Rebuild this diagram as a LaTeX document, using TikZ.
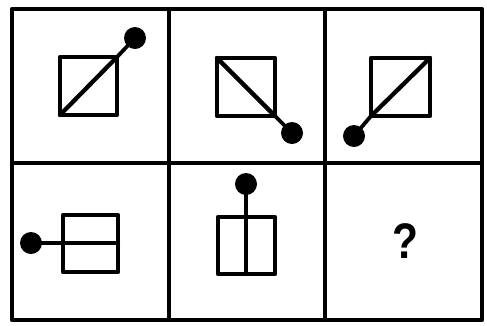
\documentclass[tikz,border=0pt]{standalone}
\usepackage{fontspec}
\setsansfont{Liberation Sans}
\usepackage{tikz}

\begin{document}
\begin{tikzpicture}[x=1pt, y=-1pt, line cap=round, line join=round]

  %% ════ styles ════
  \tikzset{
    frame/.style={line width=4.8pt, line cap=rect},
    sq/.style={line width=4.3pt},
    stick/.style={line width=3.8pt},
    ball/.style={fill=black}
  }

  %% ════ grid ════
  \draw[frame] (12,9) rectangle (482,320);
  \draw[frame] (169,9) -- (169,320);
  \draw[frame] (325,9) -- (325,320);
  \draw[frame] (12,163) -- (482,163);

  %% ════ cell 1 : / with ball upper right ════
  \draw[sq] (60,57) rectangle (117,115);
  \coordinate (b1) at (135,38);
  \draw[sq] (60,115) -- (117,57);
  \draw[stick] (117,57) -- (b1);
  \fill[ball] (b1) circle (11);

  %% ════ cell 2 : \ with ball lower right ════
  \draw[sq] (217,58) rectangle (275,116);
  \coordinate (b2) at (292,133);
  \draw[sq] (217,58) -- (275,116);
  \draw[stick] (275,116) -- (b2);
  \fill[ball] (b2) circle (11);

  %% ════ cell 3 : / with ball lower left ════
  \draw[sq] (371,58) rectangle (430,116);
  \coordinate (b3) at (354,136);
  \draw[sq] (371,116) -- (430,58);
  \draw[stick] (371,116) -- (b3);
  \fill[ball] (b3) circle (11);

  %% ════ cell 4 : -- with ball left ════
  \draw[sq] (63,215) rectangle (118,272);
  \coordinate (b4) at (31,243);
  \draw[sq] (63,243) -- (118,243);
  \draw[stick] (63,243) -- (b4);
  \fill[ball] (b4) circle (11);

  %% ════ cell 5 : | with ball above ════
  \draw[sq] (218,217) rectangle (275,274);
  \coordinate (b5) at (246,184);
  \draw[sq] (246,217) -- (246,274);
  \draw[stick] (246,217) -- (b5);
  \fill[ball] (b5) circle (11);

  %% ════ cell 6 ════
  \node[font=\sffamily\bfseries\fontsize{50}{56}\selectfont, xscale=0.85, inner sep=0pt] (q) at (405,241) {?};

  \pgfresetboundingbox
  \path[use as bounding box] (0,0) rectangle (487,325);
\end{tikzpicture}
\end{document}
